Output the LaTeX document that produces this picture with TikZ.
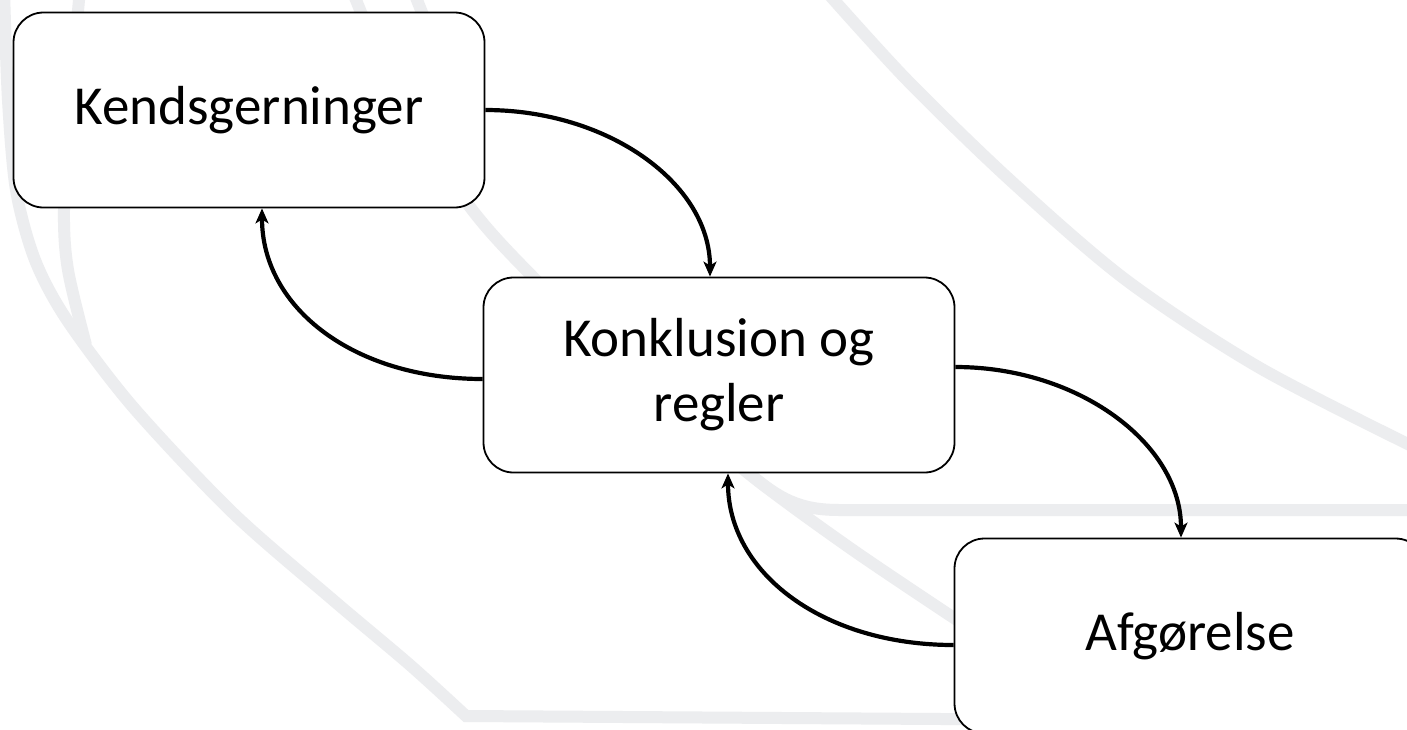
\documentclass[tikz,border=0pt]{standalone}
\usepackage{fontspec}
\setmainfont{Carlito}
\usetikzlibrary{arrows.meta,calc}
\definecolor{wm}{RGB}{236,237,239}
\tikzset{
  box/.style={draw=black, line width=1.8pt, fill=white, rounded corners=30pt,
    minimum width=471pt, minimum height=195pt, inner sep=0pt, align=center,
    font=\fontsize{55}{65}\selectfont},
  conn/.style={line width=4.2pt, -{Stealth[length=15pt,width=13pt,inset=4pt]}},
  wmline/.style={wm, line width=12pt}
}
\begin{document}
\begin{tikzpicture}[x=1pt,y=-1pt]
\useasboundingbox (0,0) rectangle (1407,729);
\clip (0,0) rectangle (1407,729);
\fill[white] (0,0) rectangle (1407,729);
% watermark
\draw[wmline] plot[smooth] coordinates {(4,-10) (8,100) (16,190) (35,260) (67,320) (133,407) (233,513) (333,600) (410,665) (466,716)} -- (1420,722);
\draw[wmline] plot[smooth] coordinates {(80,-10) (70,100) (64,210) (68,270) (86,345)};
\draw[wmline] plot[smooth] coordinates {(352,-10) (400,100) (470,207) (533,277) (640,380) (748,473) (850,548) (960,622)};
\draw[wmline] (413,-10) -- (445,70);
\draw[wmline] (745,470) .. controls (780,500) and (800,510) .. (840,510) -- (1420,510);
\draw[wmline] plot[smooth] coordinates {(825,-10) (907,80) (1010,180) (1126,280) (1260,368) (1420,450)};
% boxes
\node[box] (k) at (249,110) {Kendsgerninger};
\node[box] (m) at (719,375) {Konklusion og\\regler};
\node[box] (a) at (1190,636) {Afgørelse};
% connectors
\draw[conn] (k.east) .. controls +(123,0) and +(0,-93) .. ($(m.north)+(-9,0)$);
\draw[conn] ($(m.west)+(0,4)$) .. controls +(-128,0) and +(0,100) .. ($(k.south)+(13,0)$);
\draw[conn] ($(m.east)+(0,-8)$) .. controls +(123,0) and +(0,-94) .. ($(a.north)+(-9,0)$);
\draw[conn] ($(a.west)+(0,9)$) .. controls +(-130,0) and +(0,100) .. ($(m.south)+(9,0)$);
\end{tikzpicture}
\end{document}
